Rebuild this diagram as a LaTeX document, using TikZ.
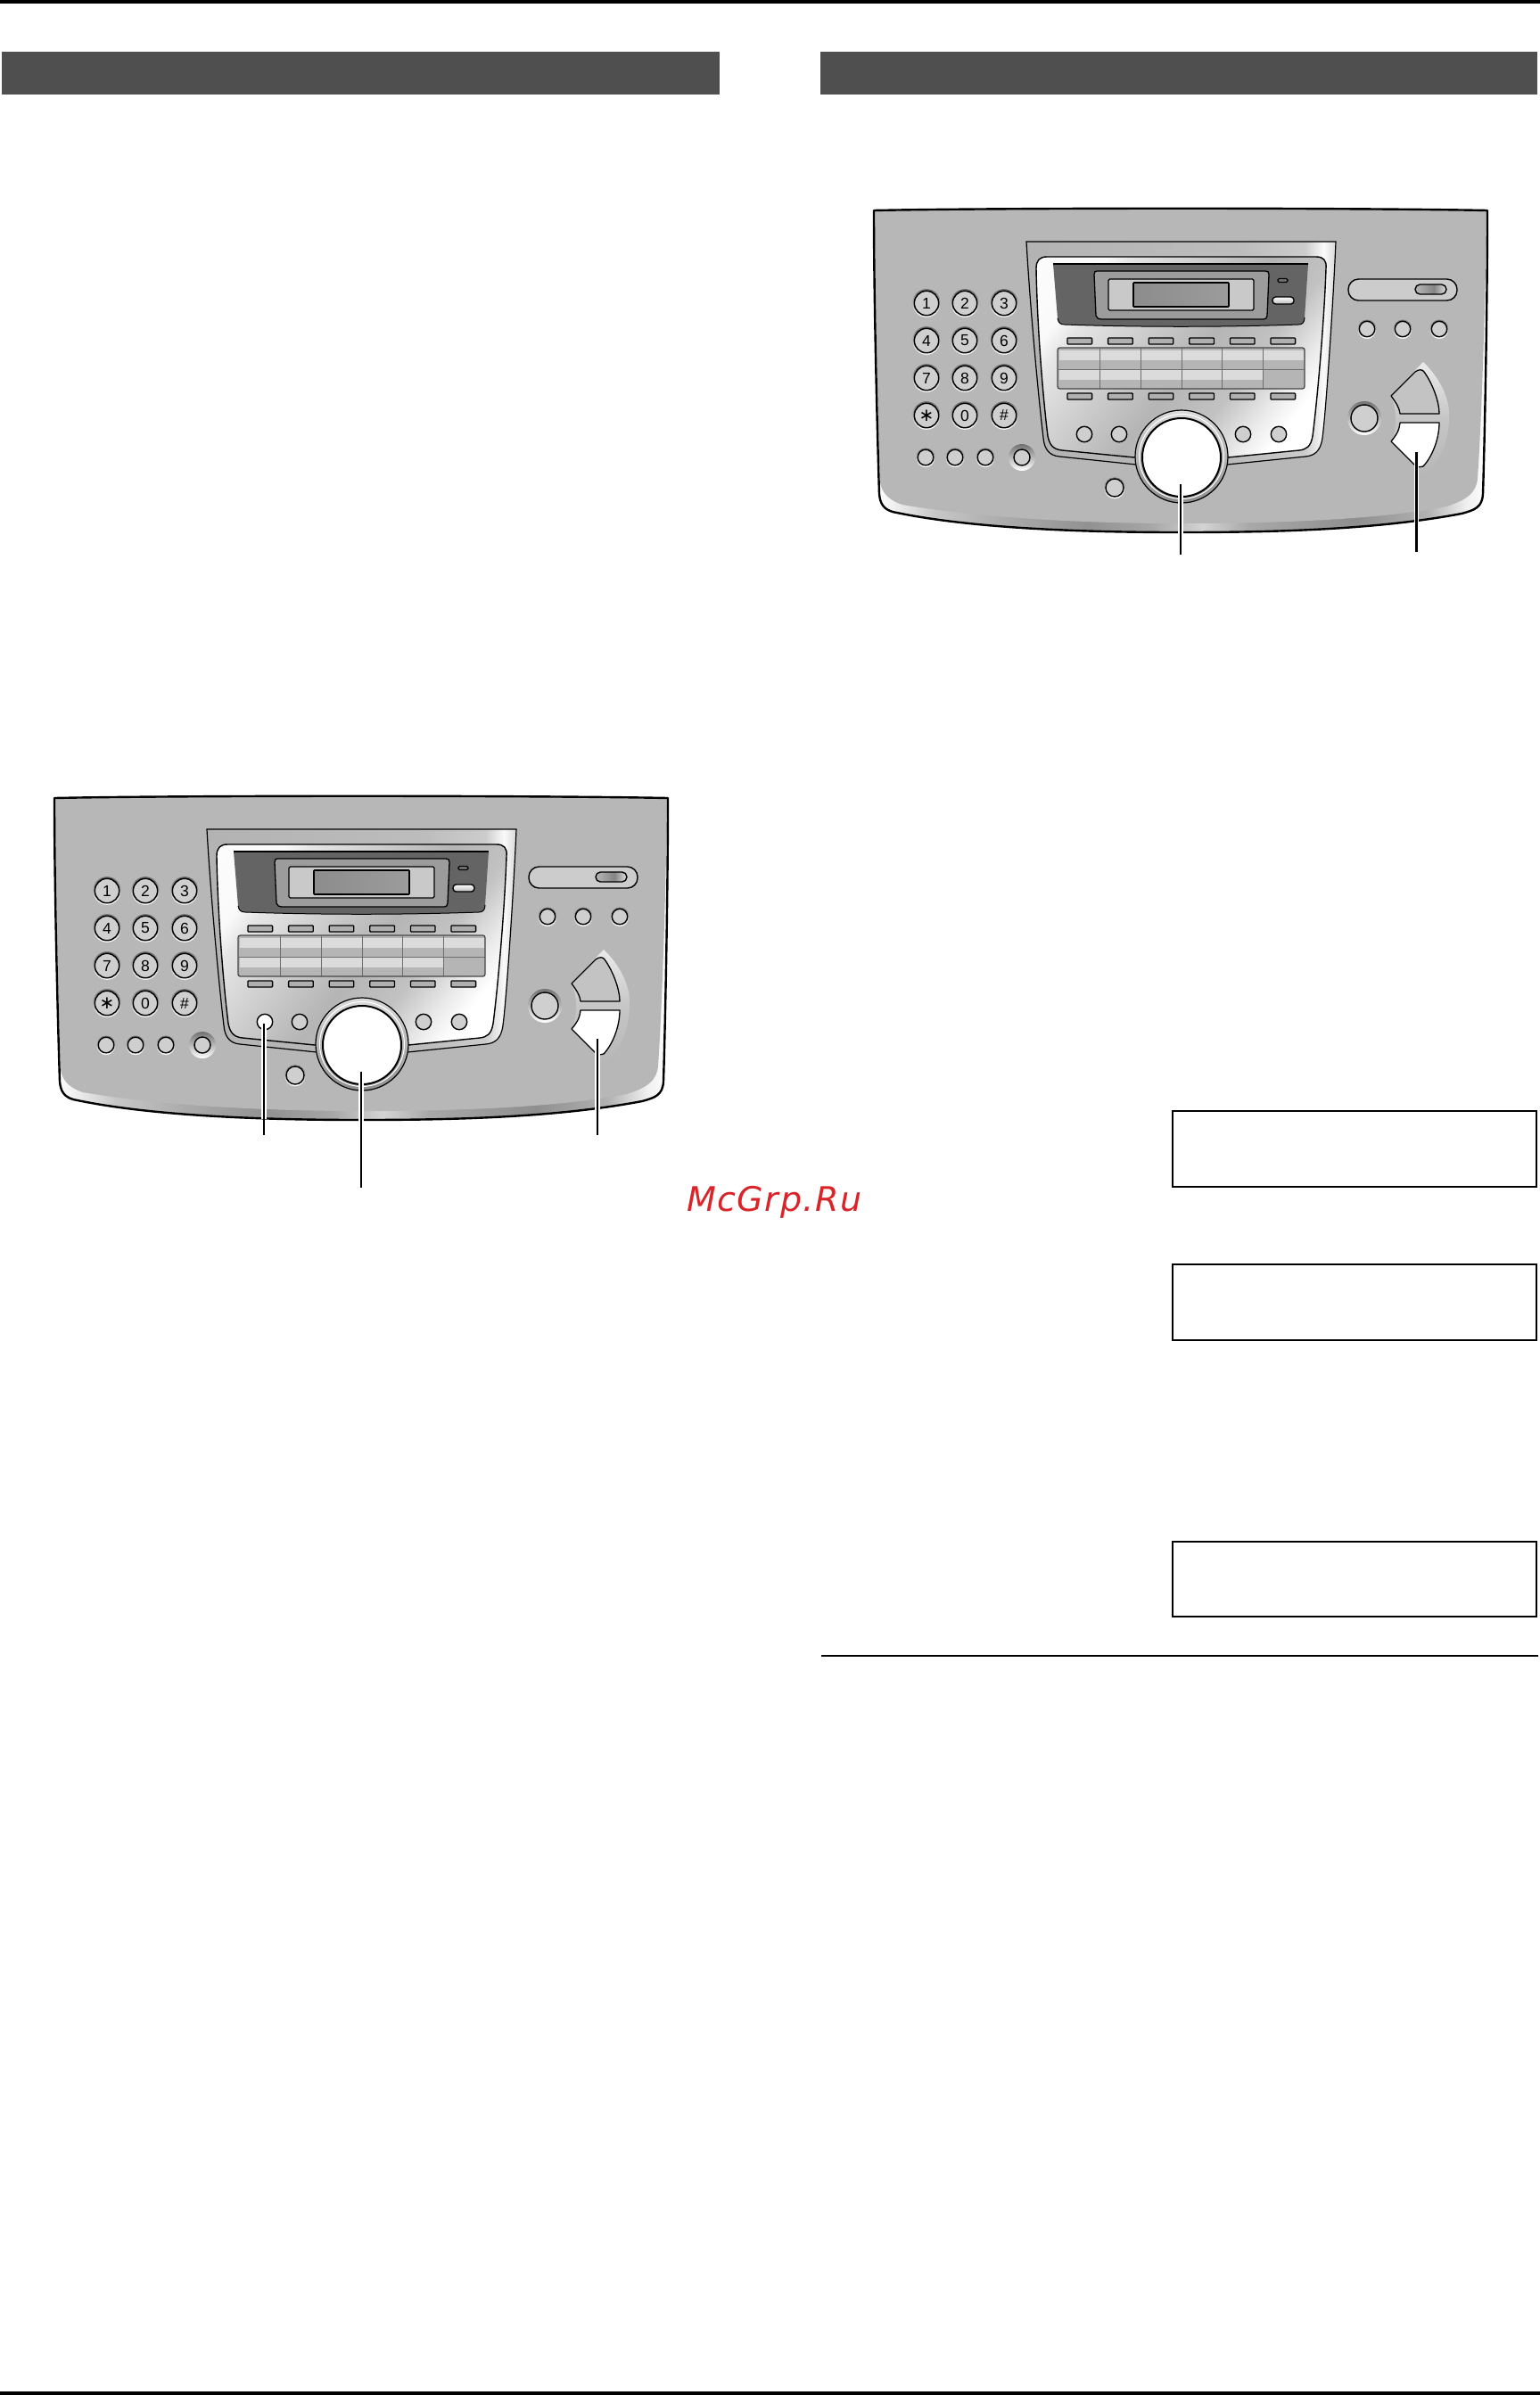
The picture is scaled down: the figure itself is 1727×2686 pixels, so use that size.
\documentclass[tikz,border=0pt]{standalone}
\usepackage{fontspec}
\usetikzlibrary{calc}
\setmainfont{Liberation Sans}
\newfontfamily\wmfont[LetterSpace=4]{DejaVu Sans}
\newfontfamily\symfont{DejaVu Sans}
\definecolor{panelgray}{HTML}{B7B7B7}
\definecolor{headgray}{HTML}{4F4F4F}
\definecolor{darkface}{HTML}{646464}
\definecolor{keyface}{HTML}{CFCFCF}
\definecolor{wmred}{HTML}{D9252A}
\definecolor{gridline}{HTML}{6E6E6E}
\definecolor{crescentmid}{HTML}{C6C6C6}
\pgfdeclarehorizontalshading{rimshade}{100bp}{
 gray(0bp)=(1);gray(25bp)=(1);gray(26.4bp)=(.95);gray(30bp)=(.78);gray(35.1bp)=(.68);
 gray(42.4bp)=(.57);gray(47.5bp)=(.65);gray(51.8bp)=(.83);gray(55.5bp)=(.66);
 gray(64.2bp)=(.56);gray(70bp)=(.69);gray(73.3bp)=(.94);gray(75bp)=(1);gray(100bp)=(1)}
\pgfdeclarehorizontalshading{metalshade}{100bp}{
 gray(0bp)=(1);gray(26bp)=(.98);gray(30bp)=(.90);gray(38bp)=(.83);gray(52bp)=(.71);gray(62bp)=(.76);gray(70bp)=(.92);gray(75bp)=(1);gray(100bp)=(1)}
\pgfdeclarehorizontalshading{pillshade}{100bp}{
 gray(0bp)=(.72);gray(25bp)=(.72);gray(55bp)=(.52);gray(75bp)=(.88);gray(100bp)=(.88)}
\pgfdeclarehorizontalshading{bandshade}{100bp}{
 gray(0bp)=(.70);gray(25bp)=(.70);gray(60bp)=(.74);gray(70bp)=(.80);gray(73bp)=(.98);gray(75bp)=(.85);gray(100bp)=(.85)}
\tikzset{
  outl/.style={draw=black,line width=1.4},
  callwhite/.style={draw=white,line width=5.5},
  callblack/.style={draw=black,line width=2.2},
  displaybox/.style={draw=black,line width=2,fill=white},
  digit/.style={inner sep=0,font=\fontsize{17.5}{17.5}\selectfont,text=black},
  headbar/.style={fill=headgray},
  pagerule/.style={fill=black},
}
% small round button: x y r fill
\newcommand{\rbtn}[4]{%
  \shade[top color=black!55,bottom color=white] (#1,#2+.3) circle[radius=#3+2];
  \fill[#4] (#1,#2) circle[radius=#3];
  \draw[outl] (#1,#2) circle[radius=#3];
}
% halo round button: x y r halo r
\newcommand{\hbtn}[4]{%
  \shade[top color=black!55,bottom color=white] (#1,#2) circle[radius=#4];
  \fill[keyface] (#1,#2) circle[radius=#3];
  \draw[outl] (#1,#2) circle[radius=#3];
}
% keypad key: prefix name x y label
\newcommand{\kkey}[5]{%
  \shade[top color=black!60,bottom color=white] (#3,#4) circle[radius=15.8];
  \fill[keyface] (#3,#4) circle[radius=13.7];
  \draw[black,line width=1.5] (#3,#4) circle[radius=13.7];
  \node[digit] (#1#2) at (#3,#4) {#5};
}
\newcommand{\slotrow}[1]{%
  \foreach \sx in {278,323.6,369.2,414.8,460.4,506}{
    \draw[black,line width=1.3,fill=gray!62,rounded corners=.8] (\sx,#1) rectangle (\sx+27.6,#1+7);
  }
}
% the control panel: #1 name prefix, #2 fill of the first round button
\newcommand{\panelbody}[2]{%
  % outer body
  \shade[shading=rimshade] (61,895) .. controls (200,892) and (600,892) .. (749,895)
    .. controls (749,1000) and (746,1150) .. (744,1213) .. controls (743,1228) and (735,1231) .. (720,1235)
    .. controls (620,1254) and (500,1256) .. (403,1256) .. controls (300,1256) and (170,1252) .. (82,1233)
    .. controls (72,1230) and (68,1224) .. (67,1213) .. controls (65,1150) and (61,1000) .. (61,895) -- cycle;
  \fill[panelgray] (62,896) .. controls (200,893) and (600,893) .. (748,896)
    .. controls (747,1000) and (742,1140) .. (738,1195) .. controls (737,1212) and (725,1220) .. (703,1227)
    .. controls (620,1243) and (500,1246) .. (403,1246) .. controls (300,1246) and (180,1240) .. (93,1225)
    .. controls (78,1220) and (70,1212) .. (68,1200) .. controls (66,1150) and (62,1000) .. (62,896) -- cycle;
  \draw[black,line width=2.4,line join=round] (61,895) .. controls (200,892) and (600,892) .. (749,895)
    .. controls (749,1000) and (746,1150) .. (744,1213) .. controls (743,1228) and (735,1231) .. (720,1235)
    .. controls (620,1254) and (500,1256) .. (403,1256) .. controls (300,1256) and (170,1252) .. (82,1233)
    .. controls (72,1230) and (68,1224) .. (67,1213) .. controls (65,1150) and (61,1000) .. (61,895) -- cycle;
  % bezel
  \shade[shading=bandshade,draw=black,line width=1.2] (232,930) -- (579,930) .. controls (576,1000) and (568,1120) .. (564,1150)
    .. controls (562,1165) and (555,1170) .. (545,1171) -- (457,1180) -- (355,1180) -- (269,1171)
    .. controls (258,1170) and (252,1163) .. (251,1150) .. controls (245,1100) and (236,1000) .. (232,930) -- cycle;
  \shade[shading=metalshade,shading angle=-38,draw=black,line width=1.4] (243,960) .. controls (243,951) and (247,947) .. (255,947)
    -- (557,947) .. controls (565,947) and (569,951) .. (568,960)
    .. controls (566,1020) and (558,1110) .. (553,1148) .. controls (551,1160) and (546,1163) .. (538,1164)
    -- (458,1172) -- (353,1172) -- (272,1164) .. controls (262,1163) and (258,1158) .. (256,1148)
    .. controls (250,1100) and (244,1020) .. (243,960) -- cycle;
  % dark display surround
  \fill[darkface] (262,955) -- (548,955) -- (544,1015) .. controls (544,1021) and (541,1023) .. (537,1023)
     .. controls (450,1026) and (360,1026) .. (275,1023) .. controls (270,1023) and (268,1021) .. (267,1016) -- cycle;
  \draw[black,line width=2] (262,955) -- (548,955);
  \draw[black,line width=1] (267,1016) .. controls (268,1021) and (270,1023) .. (275,1023) .. controls (360,1026) and (450,1026) .. (537,1023) .. controls (541,1023) and (544,1021) .. (544,1015);
  % display frame
  \draw[black,line width=1.3,fill=gray!78] (311,963) -- (500,963) .. controls (503,963) and (504,964) .. (504,967)
     -- (502,1013) .. controls (502,1016) and (500,1017) .. (498,1017) -- (316,1017) .. controls (313,1017) and (311,1016) .. (310,1013)
     -- (308,967) .. controls (308,964) and (309,963) .. (311,963) -- cycle;
  \draw[black,line width=1.3,fill=gray!42,rounded corners=1.5] (324,972) rectangle (487,1007);
  \shade[left color=gray!90,right color=gray!78,draw=black,line width=1.7,rounded corners=.8] (352,976) rectangle (459,1003);
  \draw[black,line width=1.1,fill=gray!90!black,rounded corners=1.5] (514,971.5) rectangle (525,975.5);
  \shade[top color=white,bottom color=gray!55,draw=black,line width=1.4,rounded corners=3.5] (508,992) rectangle (532,1000);
  % slot buttons
  \slotrow{1038}
  \slotrow{1100}
  % label grid
  \fill[gray!58,rounded corners=2.5] (267,1049) rectangle (544,1095);
  \foreach \ya in {1051.5,1074}{
     \fill[gray!28] (268.5,\ya) rectangle (543,\ya+11);
  }
  \fill[gray!58] (497,1074) rectangle (543,1094);
  \foreach \vx in {314,360,406,451,497}{
     \draw[gridline,line width=1] (\vx,1050) -- (\vx,1095);
  }
  \draw[gridline,line width=1] (268,1073) -- (544,1073);
  \draw[black!72,line width=1.3,rounded corners=2.5] (267,1049) rectangle (544,1095);
  % round buttons on the bezel
  \fill[#2] (297,1146) circle[radius=8.7];
  \draw[outl] (297,1146) circle[radius=8.7];
  \foreach \bx in {336,475,515}{
     \fill[keyface] (\bx,1146) circle[radius=8.7];
     \draw[outl] (\bx,1146) circle[radius=8.7];
  }
  % dial
  \shade[top color=gray!28,bottom color=gray!88,draw=black,line width=1.2] (406,1171) circle[radius=52];
  \draw[white,line width=1] (406,1171) circle[radius=47.5];
  \fill[white] (406,1172) circle[radius=44];
  \draw[black,line width=2] (406,1172) circle[radius=44];
  % lower button
  \rbtn{331}{1206}{10}{keyface}
  % keypad
  \kkey{#1}{ka}{120}{999}{1}\kkey{#1}{kb}{163}{999}{2}\kkey{#1}{kc}{207}{999}{3}
  \kkey{#1}{kd}{120}{1041}{4}\kkey{#1}{ke}{163}{1041}{5}\kkey{#1}{kf}{207}{1041}{6}
  \kkey{#1}{kg}{120}{1083}{7}\kkey{#1}{kh}{163}{1083}{8}\kkey{#1}{ki}{207}{1083}{9}
  \kkey{#1}{kj}{120}{1125}{{\symfont\fontsize{20}{20}\selectfont\raisebox{-.06em}{∗}}}\kkey{#1}{kk}{163}{1125}{0}\kkey{#1}{kl}{207}{1125}{\#}
  \rbtn{119}{1172}{8.8}{keyface}\rbtn{152}{1172}{8.8}{keyface}\rbtn{186}{1172}{8.8}{keyface}
  \hbtn{227}{1172}{9}{15}
  % right-hand group
  \draw[black,line width=1.4,fill=gray!40,rounded corners=11.5] (593,972) rectangle (715,996);
  \shade[shading=pillshade,draw=black,line width=1.4,rounded corners=5.4] (668,978) rectangle (703,989);
  \rbtn{614}{1028}{8.7}{keyface}\rbtn{654}{1028}{8.7}{keyface}\rbtn{695}{1028}{8.7}{keyface}
  \hbtn{611}{1128}{15}{19}
  \shade[top color=white!92!black,bottom color=panelgray,middle color=crescentmid]
     (677,1065) .. controls (698,1085) and (708,1110) .. (706,1130) .. controls (705,1160) and (692,1182) .. (677,1192)
     -- (640,1155) .. controls (648,1145) and (648,1112) .. (640,1103) -- cycle;
  \draw[black,line width=1.3,fill=gray!47,line join=round] (641,1103) -- (668,1076) .. controls (672,1073) and (676,1073) .. (678,1076)
     .. controls (688,1090) and (695,1110) .. (695,1123) -- (651,1123) .. controls (650,1115) and (646,1110) .. (641,1103) -- cycle;
  \draw[black,line width=1.3,fill=white,line join=round] (651,1133) -- (695,1133) .. controls (695,1150) and (688,1170) .. (677,1182)
     .. controls (674,1183) and (672,1183) .. (669,1182) -- (641,1154) .. controls (646,1148) and (650,1143) .. (651,1133) -- cycle;
}
\begin{document}
\begin{tikzpicture}[x=1pt,y=-1pt]
\useasboundingbox (0,0) rectangle (1727,2686);
\fill[white] (0,0) rectangle (1727,2686);
% page rules and heading bars
\fill[pagerule] (0,0) rectangle (1727,4);
\fill[pagerule] (0,2682) rectangle (1727,2686);
\fill[headbar] (2,58) rectangle (807,106);
\fill[headbar] (920,58) rectangle (1724,106);
% left panel
\panelbody{L}{white}
\coordinate (La) at (296,1148); \coordinate (Lb) at (296,1273);
\coordinate (Lc) at (405,1202); \coordinate (Ld) at (405,1332);
\coordinate (Le) at (670,1165); \coordinate (Lf) at (670,1273);
\draw[callwhite] (La) -- ($(Lb)+(0,-18)$);
\draw[callwhite] (Lc) -- ($(Ld)+(0,-72)$);
\draw[callwhite] (Le) -- ($(Lf)+(0,-18)$);
\draw[callblack] (La) -- (Lb);
\draw[callblack] (Lc) -- (Ld);
\draw[callblack] (Le) -- (Lf);
% right panel
\begin{scope}[shift={(919,-659)}]
\panelbody{R}{keyface}
\coordinate (Ra) at (405,1202); \coordinate (Rb) at (405,1281);
\coordinate (Rc) at (669.5,1166); \coordinate (Rd) at (669.5,1278);
\draw[callwhite] (Ra) -- ($(Rb)+(0,-20)$);
\draw[callwhite] (Rc) -- ($(Rd)+(0,-20)$);
\draw[callblack] (Ra) -- (Rb);
\draw[callblack] (Rc) -- (Rd);
\end{scope}
% message displays
\draw[displaybox] (1314.5,1245.5) rectangle (1722.5,1331);
\draw[displaybox] (1314.5,1418) rectangle (1722.5,1503);
\draw[displaybox] (1314.5,1729) rectangle (1722.5,1813);
\fill[pagerule] (921,1855.5) rectangle (1725,1858);
% watermark
\node[anchor=base west,inner sep=0,text=wmred] (wm) at (770,1358) {\wmfont\itshape\fontsize{38}{38}\selectfont McGrp.Ru};
\end{tikzpicture}
\end{document}
